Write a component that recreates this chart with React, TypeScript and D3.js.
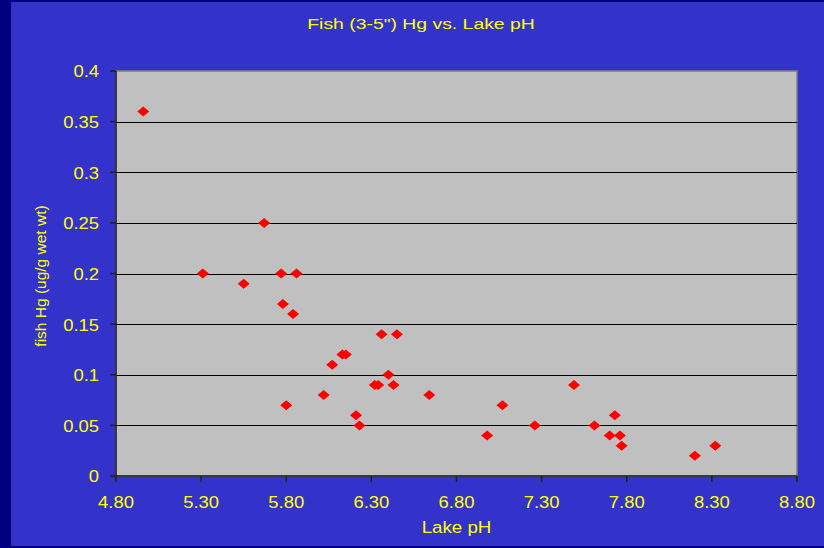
import React from "react";
import * as d3 from "d3";

const phValues: number[] = [
  4.96, 5.31, 5.55, 5.67, 5.77, 5.86, 5.78, 5.84, 5.80, 6.02, 6.07, 6.13, 6.15,
  6.21, 6.23, 6.36, 6.45, 6.40, 6.32, 6.34, 6.43, 6.64, 6.98, 7.07, 7.26, 7.49,
  7.61, 7.70, 7.73, 7.76, 7.77, 8.20, 8.32,
];
const hgValues: number[] = [
  0.36, 0.2, 0.19, 0.25, 0.2, 0.2, 0.17, 0.16, 0.07, 0.08, 0.11, 0.12, 0.12,
  0.06, 0.05, 0.14, 0.14, 0.1, 0.09, 0.09, 0.09, 0.08, 0.04, 0.07, 0.05, 0.09,
  0.05, 0.04, 0.06, 0.04, 0.03, 0.02, 0.03,
];
const xTickValues: number[] = [4.8, 5.3, 5.8, 6.3, 6.8, 7.3, 7.8, 8.3, 8.8];
const yTickValues: number[] = [0, 0.05, 0.1, 0.15, 0.2, 0.25, 0.3, 0.35, 0.4];
const titleText = 'Fish (3-5") Hg vs. Lake pH';
const xLabel = "Lake pH";
const yLabel = "fish Hg (ug/g wet wt)";

const W = 824;
const H = 548;
const left = 116;
const right = 797;
const top = 71;
const bottom = 476;
const yellow = "#FFFF00";
const font = "'Liberation Sans', Arial, sans-serif";

export default function App() {
  const x = d3.scaleLinear().domain([4.8, 8.8]).range([left, right]);
  const y = d3.scaleLinear().domain([0, 0.4]).range([bottom, top]);
  const diamond = (cx: number, cy: number) =>
    `M${cx},${cy - 5}L${cx + 6},${cy}L${cx},${cy + 5}L${cx - 6},${cy}Z`;
  return (
    <svg
      width={W}
      height={H}
      style={{ position: "absolute", left: 0, top: 0, display: "block" }}
    >
      <rect x={0} y={0} width={W} height={H} fill="#000080" />
      <rect x={11} y={2} width={W - 11} height={544} fill="#3333CC" />
      <rect
        x={left}
        y={top}
        width={right - left}
        height={bottom - top}
        fill="#C0C0C0"
        stroke="#808080"
        strokeWidth={1.5}
      />
      {yTickValues
        .filter((v) => v > 0 && v < 0.4)
        .map((v) => (
          <line
            key={"g" + v}
            x1={left}
            x2={right}
            y1={Math.round(y(v)) + 0.5}
            y2={Math.round(y(v)) + 0.5}
            stroke="#000"
            strokeWidth={1.2}
          />
        ))}
      <line x1={left} x2={left} y1={top} y2={bottom} stroke="#222" strokeWidth={1.5} />
      <line x1={left} x2={right} y1={bottom} y2={bottom} stroke="#222" strokeWidth={1.5} />
      {yTickValues.map((v) => (
        <g key={"yt" + v}>
          <line
            x1={left - 6}
            x2={left}
            y1={y(v)}
            y2={y(v)}
            stroke="#222"
            strokeWidth={1.5}
          />
          <text
            transform={`translate(99, ${y(v) + 6.4}) scale(1.15, 1)`}
            textAnchor="end"
            fill={yellow}
            fontFamily={font}
            fontSize={16}
          >
            {d3.format("")(+v.toFixed(2))}
          </text>
        </g>
      ))}
      {xTickValues.map((v) => (
        <g key={"xt" + v}>
          <line
            x1={x(v)}
            x2={x(v)}
            y1={bottom}
            y2={bottom + 6}
            stroke="#222"
            strokeWidth={1.5}
          />
          <text
            transform={`translate(${x(v)}, 508) scale(1.15, 1)`}
            textAnchor="middle"
            fill={yellow}
            fontFamily={font}
            fontSize={16}
          >
            {v.toFixed(2)}
          </text>
        </g>
      ))}
      {phValues.map((p, i) => (
        <path key={"p" + i} d={diamond(x(p), y(hgValues[i]))} fill="#FF0000" />
      ))}
      <text
        transform="translate(421, 29) scale(1.25, 1)"
        textAnchor="middle"
        fill={yellow}
        fontFamily={font}
        fontSize={15.5}
      >
        {titleText}
      </text>
      <text
        transform={`translate(${(left + right) / 2}, 533) scale(1.1, 1)`}
        textAnchor="middle"
        fill={yellow}
        fontFamily={font}
        fontSize={17}
      >
        {xLabel}
      </text>
      <text
        transform={`translate(46, 276) rotate(-90)`}
        textAnchor="middle"
        fill={yellow}
        fontFamily={font}
        fontSize={15.5}
      >
        {yLabel}
      </text>
    </svg>
  );
}
